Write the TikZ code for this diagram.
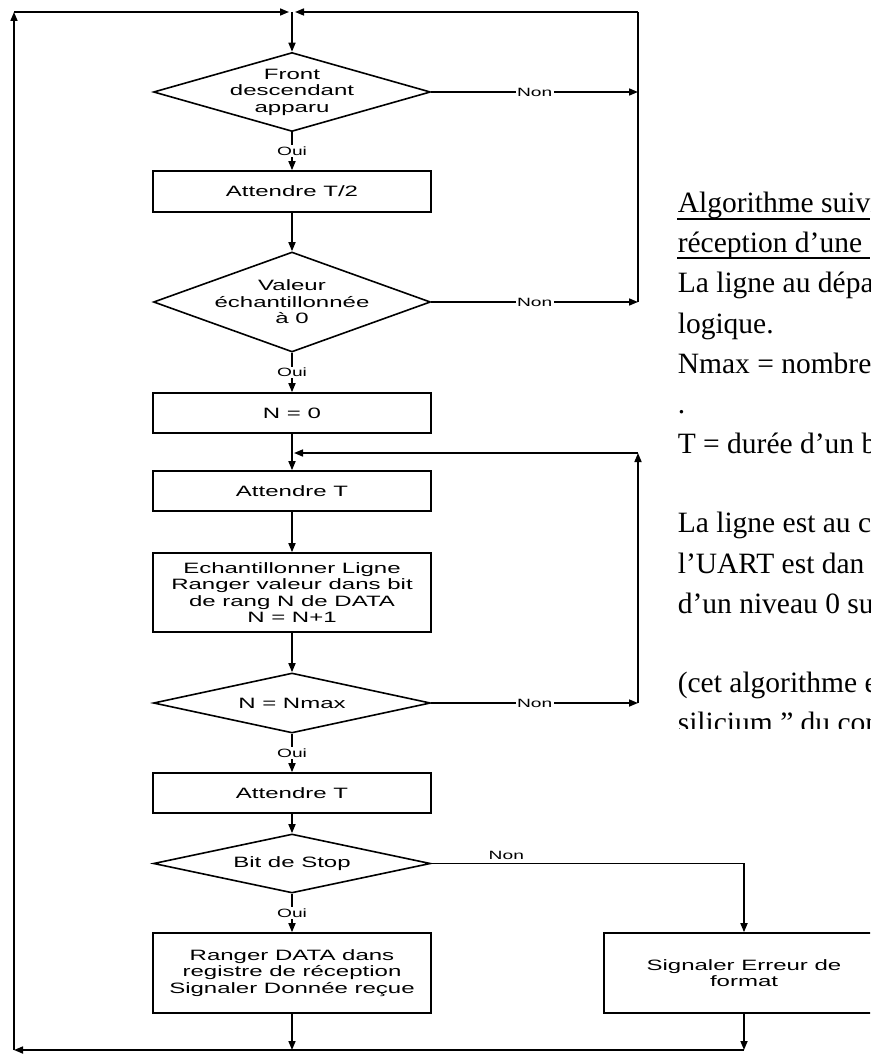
\documentclass[tikz,border=0pt]{standalone}
\usepackage{fontspec}
\setmainfont{Liberation Serif}
\newfontfamily\flowfont[FakeStretch=1.6]{Liberation Sans}
\usetikzlibrary{shapes.geometric,arrows.meta}
\begin{document}
\begin{tikzpicture}[x=1pt,y=-1pt,
  line width=1.6pt,
  arr/.style={-{Triangle[length=9pt,width=7pt]}},
  proc/.style={draw, rectangle, minimum width=278pt, inner sep=0pt,
    font=\flowfont\fontsize{15}{16.5}\selectfont, align=center},
  dia/.style={draw, diamond, minimum width=277pt, inner sep=0pt},
  dtext/.style={font=\flowfont\fontsize{15}{16.5}\selectfont, align=center, inner sep=0pt},
  lbl/.style={font=\flowfont\fontsize{12}{13}\selectfont, fill=white, inner sep=1.5pt},
  note/.style={font=\fontsize{29.5}{40}\selectfont, anchor=base west, inner sep=0pt},
  uline/.style={line width=1.8pt}
]
\useasboundingbox (0,0) rectangle (870,1054);
\clip (0,0) rectangle (870,1054);

% flowchart nodes
\node[dia, minimum height=79pt] (d1) at (292,92) {};
\node[dtext] (d1t) at (d1.center) {Front\\descendant\\apparu};
\node[proc, minimum height=41pt] (b1) at (292,191.5) {Attendre T/2};
\node[dia, minimum height=100pt] (d2) at (292,302) {};
\node[dtext] (d2t) at (d2.center) {Valeur\\échantillonnée\\à 0};
\node[proc, minimum height=40pt] (b2) at (292,413) {N = 0};
\node[proc, minimum height=40pt] (b3) at (292,491) {Attendre T};
\node[proc, minimum height=79pt] (b4) at (292,592.5) {Echantillonner Ligne\\Ranger valeur dans bit\\de rang N de DATA\\N = N+1};
\node[dia, minimum height=60pt] (d3) at (292,703) {};
\node[dtext] (d3t) at (d3.center) {N = Nmax};
\node[proc, minimum height=40pt] (b5) at (292,793) {Attendre T};
\node[dia, minimum height=59pt] (d4) at (292,863.5) {};
\node[dtext] (d4t) at (d4.center) {Bit de Stop};
\node[proc, minimum height=80pt] (b6) at (292,973) {Ranger DATA dans\\registre de réception\\Signaler Donnée reçue};
\node[proc, minimum height=80pt, minimum width=280pt] (b7) at (744,973) {Signaler Erreur de\\format};

% loop coordinates
\coordinate (tl) at (14,12);
\coordinate (tm) at (292,12);
\coordinate (tml) at (289,12);
\coordinate (tmr) at (295,12);
\coordinate (tr) at (638,12);
\coordinate (r1) at (638,92);
\coordinate (r2) at (638,302);
\coordinate (jn) at (294,453);
\coordinate (jr) at (638,453);
\coordinate (r3) at (638,703);
\coordinate (bl) at (14,1050);
\coordinate (bm) at (292,1050);
\coordinate (br) at (744,1050);

% top merge
\draw[arr] (tl) -- (tml);
\draw[arr] (tr) -- (tmr);
\draw[arr] (tm) -- (d1.north);
\draw (r2) -- (tr);

% main flow
\draw[arr] (d1.south) -- node[lbl]{Oui} (b1.north);
\draw[arr] (d1.east) -- node[lbl]{Non} (r1);
\draw[arr] (b1.south) -- (d2.north);
\draw[arr] (d2.east) -- node[lbl]{Non} (r2);
\draw[arr] (d2.south) -- node[lbl]{Oui} (b2.north);
\draw[arr] (b2.south) -- (b3.north);
\draw[arr] (b3.south) -- (b4.north);
\draw[arr] (b4.south) -- (d3.north);
\draw[arr] (d3.east) -- node[lbl]{Non} (r3);
\draw[arr] (r3) -- (jr);
\draw[arr] (jr) -- (jn);
\draw[arr] (d3.south) -- node[lbl]{Oui} (b5.north);
\draw[arr] (b5.south) -- (d4.north);
\draw[arr] (d4.south) -- node[lbl]{Oui} (b6.north);
\draw[arr] (d4.east) -| node[pos=0.12, above, font=\flowfont\fontsize{12}{13}\selectfont, inner sep=3pt]{Non} (b7.north);

% return
\draw[arr] (b6.south) -- (bm);
\draw[arr] (b7.south) -- (br);
\draw[arr] (br) -- (bl);
\draw[arr] (bl) -- (tl);

% side text
\begin{scope}
\clip (600,150) rectangle (870,728);
\node[note] (n1) at (677,212) {Algorithme suivi};
\draw[uline] (677,219) -- (870,219);
\node[note] (n2) at (677,252) {réception d’une};
\draw[uline] (677,258) -- (870,258);
\node[note] (n3) at (677,292) {La ligne au dépa};
\node[note] (n4) at (677,333) {logique.};
\node[note] (n5) at (677,373) {Nmax = nombre};
\node[note] (n6) at (677,413) {.};
\node[note] (n7) at (677,453) {T = durée d’un b};
\node[note] (n8) at (677,532) {La ligne est au c};
\node[note] (n9) at (677,573) {l’UART est dan};
\node[note] (n10) at (677,613) {d’un niveau 0 su};
\node[note] (n11) at (677,692) {(cet algorithme e};
\node[note] (n12) at (677,732) {silicium ” du con};
\end{scope}
\end{tikzpicture}
\end{document}
